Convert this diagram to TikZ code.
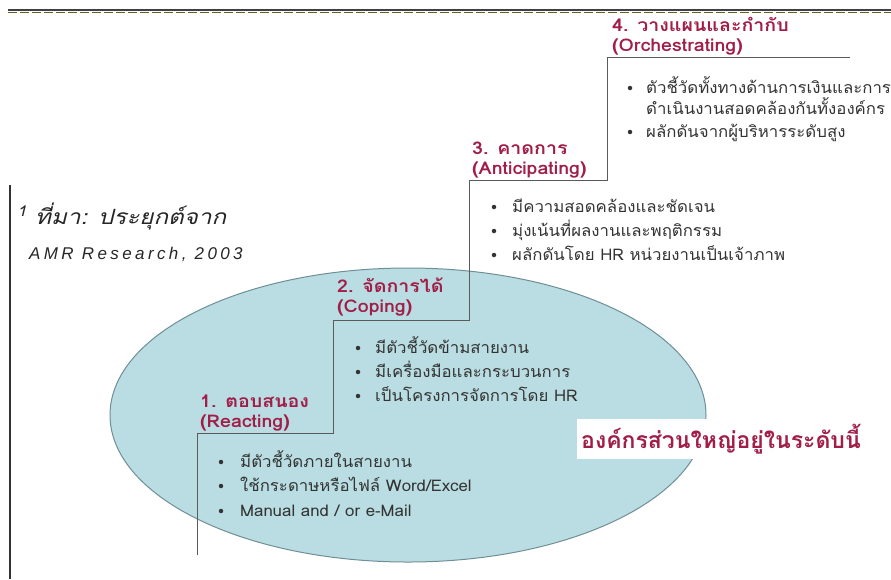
\documentclass[tikz,border=0pt]{standalone}
\usepackage{fontspec}
\setmainfont[Script=Thai]{Loma}
\newfontfamily\lblfont[Script=Thai,FakeStretch=1.12]{Loma}
\newfontfamily\bodyfont[Script=Thai,FakeStretch=1.05]{Loma}
\newfontfamily\srcfont[Script=Thai,FakeStretch=1.15]{Loma}
\newfontfamily\arialfont[LetterSpace=20]{Liberation Sans}
\definecolor{stepred}{HTML}{A01E48}
\definecolor{bodytxt}{HTML}{333333}
\definecolor{ellfill}{HTML}{B9DDE2}
\definecolor{elldraw}{HTML}{6F8F96}
\definecolor{stairc}{HTML}{5A5A5A}
\begin{document}
\begin{tikzpicture}[x=1pt,y=-1pt,
  steplabel/.style={anchor=base west,inner sep=0pt,font=\lblfont\fontsize{17.5}{19}\selectfont\bfseries,text=stepred},
  bullettxt/.style={anchor=base west,inner sep=0pt,font=\bodyfont\fontsize{16}{18}\selectfont,text=bodytxt},
  bulletdot/.style={circle,fill=bodytxt,inner sep=0pt,minimum size=4.5pt},
  stair/.style={draw=stairc,line width=0.9pt}]
\useasboundingbox (0,0) rectangle (891,579);
% top rule
\draw[line width=1.4pt,black!75] (8,10) -- (891,10);
\draw[line width=1.6pt,olive!60!black,dash pattern=on 9pt off 3pt] (8,12.4) -- (891,12.4);
% left rule
\draw[line width=1.2pt,black!80] (10,185) -- (10,579);
% ellipse
\path[fill=ellfill,draw=elldraw,line width=1pt] (408,415) ellipse [x radius=298,y radius=147];
% staircase
\coordinate (s0) at (197,555);
\coordinate (s1) at (197,433);
\coordinate (s2) at (333,433);
\coordinate (s3) at (333,320);
\coordinate (s4) at (469,320);
\coordinate (s5) at (469,180);
\coordinate (s6) at (607,180);
\coordinate (s7) at (607,57);
\coordinate (s8) at (850,57);
\draw[stair] (s0) -- (s1) -- (s2) -- (s3) -- (s4) -- (s5) -- (s6) -- (s7) -- (s8);
% source
\node[anchor=base west,inner sep=0pt,font=\srcfont\fontsize{21}{23}\selectfont\itshape,text=black!85] (src1) at (17,224) {\textsuperscript{1} ที่มา: ประยุกต์จาก};
\node[anchor=base west,inner sep=0pt,font=\arialfont\fontsize{17}{19}\selectfont\itshape,text=black!85] (src2) at (29,259) {AMR Research, 2003};
% step 4
\node[steplabel] (l4a) at (612,31) {4. วางแผนและกำกับ};
\node[steplabel] (l4b) at (612,51) {(Orchestrating)};
\node[bulletdot] (d4a) at (630,88) {};
\node[bullettxt] (t4a) at (646,93) {ตัวชี้วัดทั้งทางด้านการเงินและการ};
\node[bulletdot] (d4b) at (630,132) {};
\node[bullettxt] (t4b) at (646,114) {ดำเนินงานสอดคล้องกันทั้งองค์กร};
\node[bullettxt] (t4c) at (646,137) {ผลักดันจากผู้บริหารระดับสูง};
% step 3
\node[steplabel] (l3a) at (472,154) {3. คาดการ};
\node[steplabel] (l3b) at (472,174) {(Anticipating)};
\node[bulletdot] (d3a) at (494,207) {};
\node[bullettxt] (t3a) at (512,212) {มีความสอดคล้องและชัดเจน};
\node[bulletdot] (d3b) at (494,231) {};
\node[bullettxt] (t3b) at (512,236) {มุ่งเน้นที่ผลงานและพฤติกรรม};
\node[bulletdot] (d3c) at (494,255) {};
\node[bullettxt] (t3c) at (512,260) {ผลักดันโดย HR หน่วยงานเป็นเจ้าภาพ};
% step 2
\node[steplabel] (l2a) at (337,292) {2. จัดการได้};
\node[steplabel] (l2b) at (337,312) {(Coping)};
\node[bulletdot] (d2a) at (358,348) {};
\node[bullettxt] (t2a) at (375,353) {มีตัวชี้วัดข้ามสายงาน};
\node[bulletdot] (d2b) at (358,372) {};
\node[bullettxt] (t2b) at (375,377) {มีเครื่องมือและกระบวนการ};
\node[bulletdot] (d2c) at (358,396) {};
\node[bullettxt] (t2c) at (375,401) {เป็นโครงการจัดการโดย HR};
% step 1
\node[steplabel] (l1a) at (200,407) {1. ตอบสนอง};
\node[steplabel] (l1b) at (200,427) {(Reacting)};
\node[bulletdot] (d1a) at (221,462) {};
\node[bullettxt] (t1a) at (240,467) {มีตัวชี้วัดภายในสายงาน};
\node[bulletdot] (d1b) at (221,486) {};
\node[bullettxt] (t1b) at (240,491) {ใช้กระดาษหรือไฟล์ Word/Excel};
\node[bulletdot] (d1c) at (221,511) {};
\node[bullettxt] (t1c) at (240,516) {Manual and / or e-Mail};
% note
\node[fill=white,inner xsep=4pt,inner ysep=5pt,font=\fontsize{23}{25}\selectfont\bfseries,text=stepred] (note) at (721,439) {องค์กรส่วนใหญ่อยู่ในระดับนี้};
\end{tikzpicture}
\end{document}
